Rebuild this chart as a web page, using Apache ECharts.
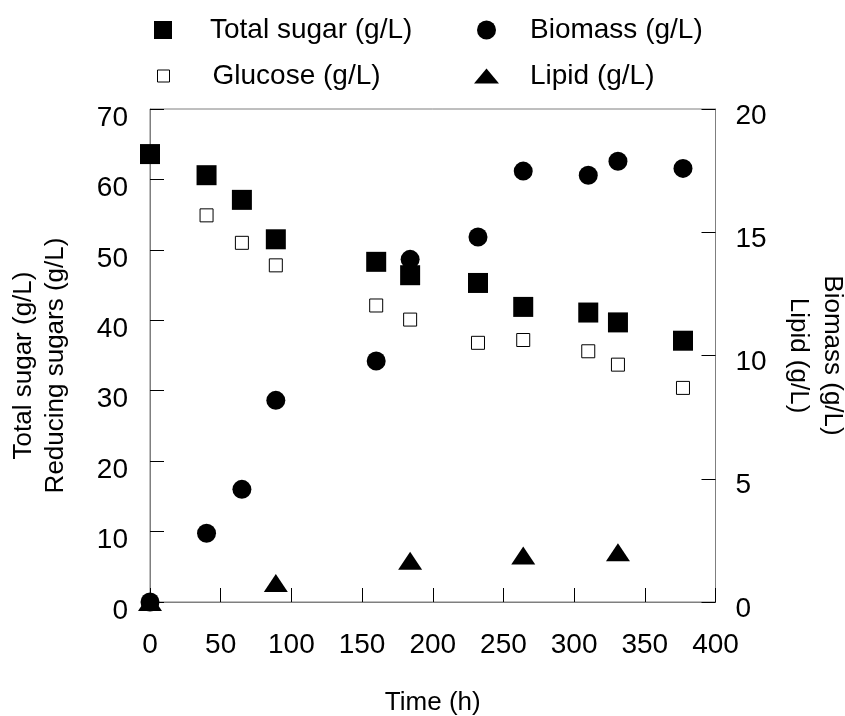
<!DOCTYPE html>
<html>
<head>
<meta charset="utf-8">
<script src="https://cdn.jsdelivr.net/npm/echarts@6/dist/echarts.min.js"></script>
<style>
  html, body { margin: 0; padding: 0; background: #fff; }
  #chart { width: 845px; height: 716px; }
</style>
</head>
<body>
<div id="chart"></div>
<script>
// Sampling times (h)
const time = [0, 40, 65, 89, 160, 184, 232, 264, 310, 331, 377];
// Left axis (g/L)
const totalSugar = [63.6, 60.6, 57.1, 51.5, 48.3, 46.4, 45.3, 41.9, 41.1, 39.7, 37.1];
const glucose = [null, 54.9, 51.0, 47.8, 42.1, 40.1, 36.8, 37.2, 35.6, 33.7, 30.4];
// Right axis (g/L)
const biomass = [0.0, 2.79, 4.57, 8.18, 9.78, 13.9, 14.81, 17.48, 17.31, 17.88, 17.59];
const lipid = [0.0, null, null, 0.77, null, 1.67, null, 1.89, null, 2.02, null];

const xTicks = [0, 400, 50];
const leftTicks = [0, 70, 10];
const rightTicks = [0, 20, 5];

const FONT = "'Liberation Sans', Arial, sans-serif";
const AXIS_GRAY = '#7f7f7f';

function pairs(values) {
  return time.map((t, i) => [t, values[i]]).filter(p => p[1] !== null);
}

// One legend per entry so each symbol keeps its own size and text offset
function legendItem(name, icon, left, top, w, h, textGap, extra) {
  return Object.assign({
    data: [{ name: name, icon: icon }],
    left: left, top: top,
    padding: 0,
    itemWidth: w, itemHeight: h,
    selectedMode: false,
    textStyle: { fontFamily: FONT, fontSize: 28, color: '#000', padding: [0, 0, 0, textGap] }
  }, extra || {});
}

const axisTickStyle = { show: true, inside: true, length: 14, lineStyle: { color: '#000', width: 1 } };
const axisLineStyle = { show: true, lineStyle: { color: AXIS_GRAY, width: 1 } };
// Tick labels sit a little below their ticks
const tickLabel = (margin, drop) => ({
  margin: margin, fontSize: 28, color: '#000', fontFamily: FONT,
  verticalAlign: 'top', lineHeight: drop * 2
});

const option = {
  animation: false,
  backgroundColor: '#fff',
  textStyle: { fontFamily: FONT },
  grid: {
    left: 150, right: 129.5, top: 109, bottom: 114,
    outerBoundsMode: 'none', containLabel: false,
    show: true, borderColor: AXIS_GRAY, borderWidth: 1
  },
  legend: [
    legendItem('Total sugar (g/L)', 'rect', 154, 16, 18, 18, 33),
    legendItem('Glucose (g/L)', 'rect', 157, 62, 12, 12, 38, { itemStyle: { borderWidth: 1 } }),
    legendItem('Biomass (g/L)', 'circle', 477, 16, 19, 19, 29),
    legendItem('Lipid (g/L)', 'triangle', 474, 62, 25, 15, 26)
  ],
  xAxis: {
    type: 'value',
    min: xTicks[0], max: xTicks[1], interval: xTicks[2],
    axisLine: axisLineStyle,
    axisTick: axisTickStyle,
    splitLine: { show: false },
    axisLabel: { margin: 29, fontSize: 28, color: '#000', fontFamily: FONT },
    name: 'Time (h)',
    nameLocation: 'middle',
    nameGap: 88,
    nameTextStyle: { fontSize: 26, color: '#000', fontFamily: FONT }
  },
  yAxis: [
    {
      type: 'value',
      position: 'left',
      min: leftTicks[0], max: leftTicks[1], interval: leftTicks[2],
      axisLine: axisLineStyle,
      axisTick: axisTickStyle,
      splitLine: { show: false },
      axisLabel: tickLabel(22, 9),
      name: 'Total sugar (g/L)\nReducing sugars (g/L)',
      nameLocation: 'middle',
      nameGap: 78,
      nameTextStyle: { fontSize: 26, lineHeight: 32, color: '#000', fontFamily: FONT, padding: [0, 20, 0, 0] }
    },
    {
      type: 'value',
      position: 'right',
      min: rightTicks[0], max: rightTicks[1], interval: rightTicks[2],
      axisLine: axisLineStyle,
      axisTick: axisTickStyle,
      splitLine: { show: false },
      axisLabel: tickLabel(20, 7),
      name: 'Biomass (g/L)\nLipid (g/L)',
      nameLocation: 'middle',
      nameRotate: -90,
      nameGap: 66,
      nameTextStyle: { fontSize: 26, lineHeight: 34, color: '#000', fontFamily: FONT }
    }
  ],
  series: [
    {
      name: 'Glucose (g/L)', type: 'scatter', clip: false,
      symbol: 'rect', symbolSize: 13,
      itemStyle: { color: '#fff', borderColor: '#000', borderWidth: 1, opacity: 1 },
      data: pairs(glucose)
    },
    {
      name: 'Total sugar (g/L)', type: 'scatter', clip: false,
      symbol: 'rect', symbolSize: 20,
      itemStyle: { color: '#000', opacity: 1 },
      data: pairs(totalSugar)
    },
    {
      name: 'Biomass (g/L)', type: 'scatter', clip: false, yAxisIndex: 1,
      symbol: 'circle', symbolSize: 19,
      itemStyle: { color: '#000', opacity: 1 },
      data: pairs(biomass)
    },
    {
      name: 'Lipid (g/L)', type: 'scatter', clip: false, yAxisIndex: 1,
      symbol: 'triangle', symbolSize: [24, 18],
      itemStyle: { color: '#000', opacity: 1 },
      data: pairs(lipid)
    }
  ]
};

const chart = echarts.init(document.getElementById('chart'), null, { renderer: 'canvas' });
chart.setOption(option);
</script>
</body>
</html>
